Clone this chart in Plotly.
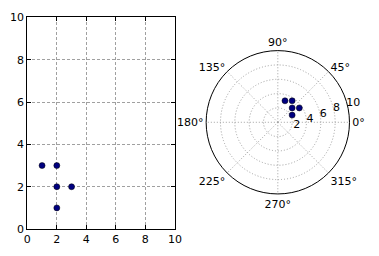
import math
import plotly.graph_objects as go

x_vals = [1, 2, 2, 3, 2]
y_vals = [3, 3, 2, 2, 1]
cart_ticks = [0, 2, 4, 6, 8, 10]
radial_ticks = [2, 4, 6, 8, 10]
angle_ticks = [0, 45, 90, 135, 180, 225, 270, 315]
angle_labels = ["0°", "45°", "90°", "135°", "180°", "225°", "270°", "315°"]

r_vals = [math.hypot(a, b) for a, b in zip(x_vals, y_vals)]
theta_vals = [math.degrees(math.atan2(b, a)) for a, b in zip(x_vals, y_vals)]

W, H = 379, 256
FONT = dict(family="DejaVu Sans", size=11, color="black")
marker = dict(color="#000080", size=6, line=dict(color="black", width=0.5))

fig = go.Figure()
fig.add_trace(go.Scatter(x=x_vals, y=y_vals, mode="markers", marker=marker,
                         xaxis="x", yaxis="y", showlegend=False))
fig.add_trace(go.Scatterpolar(r=r_vals, theta=theta_vals, mode="markers",
                              marker=marker, subplot="polar", showlegend=False))

axis_common = dict(range=[0, 10], tickvals=cart_ticks, showgrid=True,
                   gridcolor="#a0a0a0", griddash="3px,2px", gridwidth=1,
                   showline=True, linecolor="black", linewidth=1, mirror="allticks",
                   ticks="inside", ticklen=4, tickcolor="black",
                   zeroline=False, tickfont=FONT)

fig.update_layout(
    width=W, height=H,
    margin=dict(l=0, r=0, t=0, b=0),
    paper_bgcolor="white", plot_bgcolor="white",
    font=FONT,
    xaxis=dict(domain=[24 / W, 176 / W], anchor="y", **axis_common),
    yaxis=dict(domain=[1 - 235 / H, 1 - 12 / H], anchor="x", **axis_common),
    polar=dict(
        domain=dict(x=[207 / W, 357 / W], y=[1 - 198 / H, 1 - 47 / H]),
        bgcolor="white",
        radialaxis=dict(range=[0, 10], tickvals=radial_ticks, angle=22.5,
                        tickangle=22.5, showline=False, ticks="",
                        gridcolor="#a0a0a0", griddash="1px,2px", gridwidth=1,
                        tickfont=FONT),
        angularaxis=dict(tickvals=angle_ticks, ticktext=angle_labels,
                         direction="counterclockwise",
                         rotation=0, showline=True, linecolor="black", linewidth=1,
                         ticks="", gridcolor="#a0a0a0", griddash="1px,2px", gridwidth=1,
                         tickfont=FONT),
    ),
)

fig.write_html("out.html")
